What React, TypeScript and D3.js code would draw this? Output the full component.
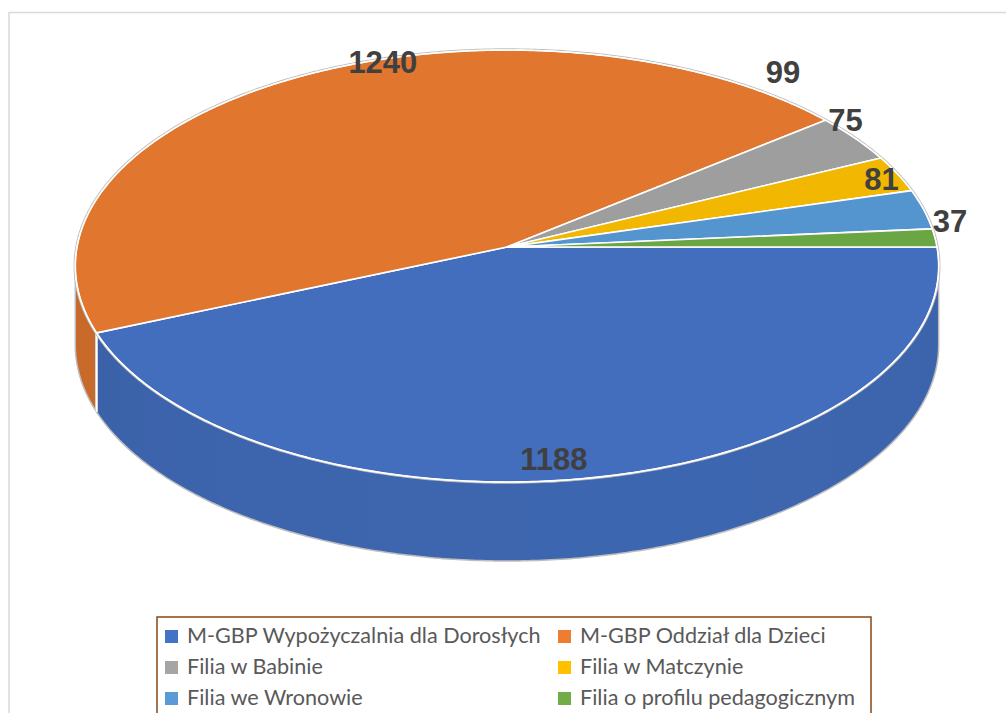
import React from "react";
import * as d3 from "d3";

const categories = [
  "M-GBP Wypożyczalnia dla Dorosłych",
  "M-GBP Oddział dla Dzieci",
  "Filia w Babinie",
  "Filia w Matczynie",
  "Filia we Wronowie",
  "Filia o profilu pedagogicznym",
];
const values = [1188, 1240, 99, 75, 81, 37];
const topColors = ["#426EBD", "#E1772F", "#9E9E9E", "#F2B700", "#5495CF", "#6BA644"];
const legendColors = ["#4472C4", "#ED7D31", "#A5A5A5", "#FFC000", "#5B9BD5", "#70AD47"];
// label offsets (dx, dy) from each slice's rim point at its mid angle
const labelOffsets: [number, number][] = [
  [-46, -7],
  [80, -3],
  [-72, -55],
  [-52, -43],
  [-42, -19],
  [15, -6],
];

const W = 1006;
const H = 713;
const cx = 507;
const cy = 247;
const rx = 430;
const ry = 214.3;
const k = 0.088;
const depth = 79;

function proj(t: number, rho = 1, dz = 0): [number, number] {
  const u = rho * Math.cos(t);
  const v = rho * Math.sin(t);
  const d = 1 - k * v;
  return [cx + (rx * u) / d, cy + (ry * v) / d + dz];
}

function arcPts(a0: number, a1: number, dz = 0, step = 0.01): [number, number][] {
  const n = Math.max(2, Math.ceil(Math.abs(a1 - a0) / step));
  const pts: [number, number][] = [];
  for (let i = 0; i <= n; i++) pts.push(proj(a0 + ((a1 - a0) * i) / n, 1, dz));
  return pts;
}

function shade(color: string, m: number) {
  const c = d3.rgb(color);
  return d3.rgb(c.r * m, c.g * m, c.b * m).formatHex();
}

export default function App() {
  const pie = d3
    .pie<number>()
    .sort(null)
    .startAngle(Math.PI / 2)
    .endAngle(Math.PI / 2 + 2 * Math.PI);
  const arcs = pie(values).map((a, i) => ({
    i,
    t0: a.startAngle - Math.PI / 2,
    t1: a.endAngle - Math.PI / 2,
  }));
  const line = d3.line();
  const tMin = Math.asin(k);
  const tMax = Math.PI - Math.asin(k);
  const xRight = proj(tMin)[0];
  const xLeft = proj(tMax)[0];
  const shadeAt = (t: number) => 0.93 - 0.045 * (1 - Math.cos(t - (75 * Math.PI) / 180));

  const gradients = topColors.map((c, i) => {
    const stops: React.ReactNode[] = [];
    const n = 24;
    for (let s = 0; s <= n; s++) {
      const t = tMin + ((tMax - tMin) * s) / n;
      const off = (proj(t)[0] - xRight) / (xLeft - xRight);
      stops.push(<stop key={s} offset={off} stopColor={shade(c, shadeAt(t))} />);
    }
    return (
      <linearGradient
        key={`gr${i}`}
        id={`wall${i}`}
        gradientUnits="userSpaceOnUse"
        x1={xRight}
        y1={0}
        x2={xLeft}
        y2={0}
      >
        {stops}
      </linearGradient>
    );
  });

  const walls: React.ReactNode[] = [];
  arcs.forEach(({ i, t0, t1 }) => {
    const a0 = Math.max(t0, tMin);
    const a1 = Math.min(t1, tMax);
    if (a1 <= a0) return;
    const pts = [...arcPts(a0, a1, 0), ...arcPts(a1, a0, depth)];
    walls.push(<path key={`w${i}`} d={line(pts) + "Z"} fill={`url(#wall${i})`} />);
  });

  const bottomOutline = [
    proj(tMin, 1, 0),
    ...arcPts(tMin, tMax, depth),
    proj(tMax, 1, 0),
  ];

  const edgeLines: React.ReactNode[] = [];
  arcs.forEach(({ i, t0 }) => {
    if (t0 > tMin && t0 < tMax) {
      const p = proj(t0, 1, 0);
      const q = proj(t0, 1, depth);
      edgeLines.push(
        <g key={`e${i}`}>
          <line x1={p[0]} y1={p[1]} x2={q[0]} y2={q[1]} stroke="#c8c8c8" strokeWidth={3} />
          <line x1={p[0]} y1={p[1]} x2={q[0]} y2={q[1]} stroke="#ffffff" strokeWidth={1.5} />
        </g>
      );
    }
  });

  const topFaces = arcs.map(({ i, t0, t1 }) => {
    const pts = [[cx, cy] as [number, number], ...arcPts(t0, t1, 0)];
    return (
      <path
        key={`t${i}`}
        d={line(pts) + "Z"}
        fill={topColors[i]}
        stroke="#ffffff"
        strokeWidth={1.6}
        strokeLinejoin="round"
      />
    );
  });

  const fullTop = line(arcPts(0, 2 * Math.PI, 0)) + "Z";

  const labels = arcs.map(({ i, t0, t1 }) => {
    const p = proj((t0 + t1) / 2, 1, 0);
    return (
      <text
        key={`l${i}`}
        x={p[0] + labelOffsets[i][0]}
        y={p[1] + labelOffsets[i][1]}
        textAnchor="middle"
        fontFamily="'Liberation Sans', Arial, sans-serif"
        fontWeight="bold"
        fontSize={31}
        fill="#404040"
      >
        {values[i]}
      </text>
    );
  });

  const legendX = 157;
  const legendY = 617;
  const colX = [165, 558];
  const rowY = [643, 674, 705];
  const legend = categories.map((c, i) => {
    const col = i % 2;
    const row = Math.floor(i / 2);
    return (
      <g key={`g${i}`}>
        <rect x={colX[col]} y={rowY[row] - 13} width={13} height={13} fill={legendColors[i]} />
        <text
          x={colX[col] + 22}
          y={rowY[row]}
          fontFamily="Lato, 'Noto Sans', sans-serif"
          fontSize={21.6}
          fill="#595959"
        >
          {c}
        </text>
      </g>
    );
  });

  return (
    <svg
      width={W}
      height={H}
      style={{ position: "absolute", left: 0, top: 0, background: "#fff" }}
    >
      <defs>{gradients}</defs>
      <rect x={9} y={12.5} width={1010} height={720} fill="#fff" stroke="#d9d9d9" strokeWidth={1.5} />
      {walls}
      <path d={line(bottomOutline) || ""} fill="none" stroke="#bdbdbd" strokeWidth={1.5} />
      {edgeLines}
      <path d={fullTop} fill="none" stroke="#bfbfbf" strokeWidth={3.5} />
      {topFaces}
      <path d={fullTop} fill="none" stroke="#ffffff" strokeWidth={1.2} />
      {labels}
      <rect x={legendX} y={legendY} width={714} height={120} fill="#fff" stroke="#8B4513" strokeWidth={1.5} />
      {legend}
    </svg>
  );
}
